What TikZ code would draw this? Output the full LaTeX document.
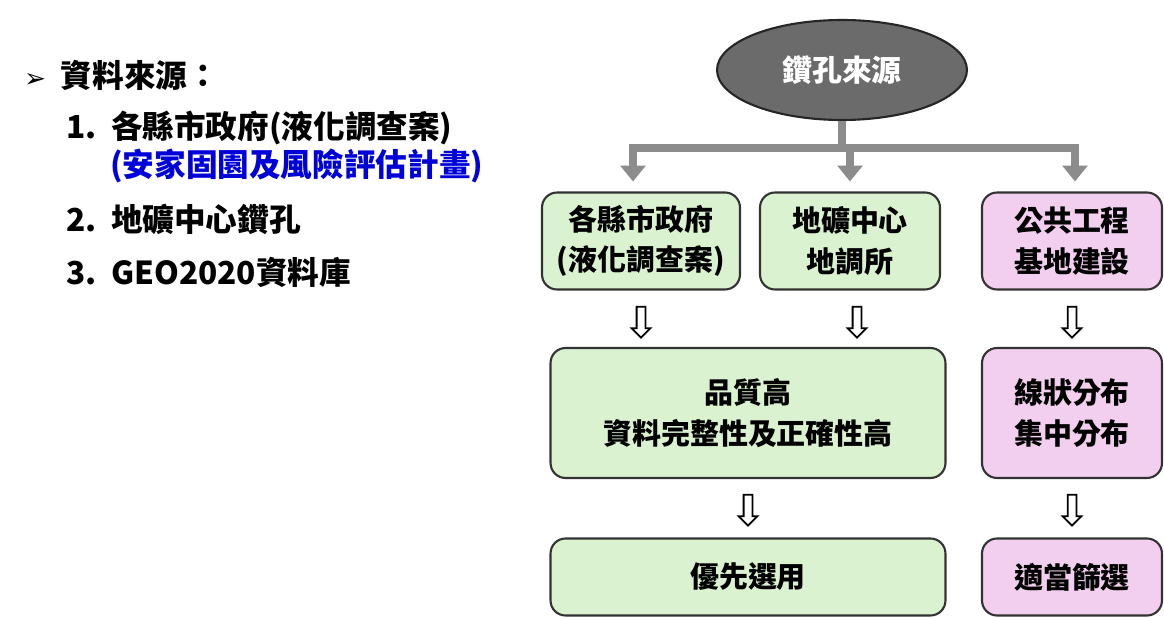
\documentclass[tikz,border=0pt]{standalone}
\usepackage{fontspec}
\setmainfont{Noto Sans CJK TC}
\newfontfamily\symfont{DejaVu Sans}
\usetikzlibrary{positioning,shapes.geometric,shapes.arrows,arrows.meta}
\definecolor{boxgreen}{HTML}{DAF2D0}
\definecolor{boxpink}{HTML}{F2CFEE}
\definecolor{linkgray}{HTML}{8C8C8C}
\tikzset{
  box/.style={draw=black!80,line width=1.2pt,rounded corners=0.3cm,align=center,
    font=\fontsize{16.5}{23}\selectfont\bfseries,inner sep=0pt},
  greenbox/.style={box,fill=boxgreen},
  pinkbox/.style={box,fill=boxpink},
  hollow/.style={single arrow,draw=black,line width=1pt,fill=white,rotate=270,
    minimum height=0.62cm,single arrow head extend=0.1cm,inner sep=0.07cm},
  link/.style={linkgray,line width=5pt},
  item/.style={anchor=west,font=\fontsize{18}{22}\selectfont\bfseries}
}
\begin{document}
\begin{tikzpicture}[x=0.02cm,y=-0.02cm]
\useasboundingbox (0,0) rectangle (1164,618);
% list on the left
\node[item] (title) at (18,75) {{\symfont\fontsize{15}{18}\selectfont ➢}\ \ 資料來源：};
\node[item] (n1) at (60,128) {1.\ \ 各縣市政府(液化調查案)};
\node[item,text=blue!85!black] (n1b) at (104,166) {(安家固園及風險評估計畫)};
\node[item] (n2) at (60,219) {2.\ \ 地礦中心鑽孔};
\node[item] (n3) at (60,272) {3.\ \ GEO2020資料庫};
% source
\node[ellipse,draw=black!85,line width=1.2pt,fill=black!58,text=white,
  minimum width=5cm,minimum height=2cm,font=\fontsize{17}{20}\selectfont\bfseries] (src) at (842,70) {鑽孔來源};
% first row
\node[greenbox,minimum width=3.96cm,minimum height=1.94cm] (county) at (641,241) {各縣市政府\\(液化調查案)};
\node[greenbox,minimum width=3.6cm,minimum height=1.94cm] (geo) at (850,241) {地礦中心\\地調所};
\node[pinkbox,minimum width=3.6cm,minimum height=1.94cm] (pub) at (1072,241) {公共工程\\基地建設};
% second row
\node[greenbox,minimum width=7.9cm,minimum height=2.6cm] (quality) at (748,413) {品質高\\資料完整性及正確性高};
\node[pinkbox,minimum width=3.6cm,minimum height=2.6cm] (dist) at (1072,413) {線狀分布\\集中分布};
% third row
\node[greenbox,minimum width=7.9cm,minimum height=1.54cm] (use) at (748,577) {優先選用};
\node[pinkbox,minimum width=3.6cm,minimum height=1.54cm] (filt) at (1072,577) {適當篩選};
% hollow arrows
\node[hollow] (a1) at (641,320) {};
\node[hollow] (a2) at (857,320) {};
\node[hollow] (a3) at (1072,320) {};
\node[hollow] (a4) at (748,508) {};
\node[hollow] (a5) at (1072,508) {};
% gray connector
\coordinate (split) at (842,148);
\draw[link] (src.south) -- (split);
\draw[link,-{Triangle[length=9pt,width=14pt]}] (split) -| ([xshift=-8*0.02cm,yshift=0.2cm]county.north);
\draw[link,-{Triangle[length=9pt,width=14pt]}] (split) -| ([yshift=0.2cm]geo.north);
\draw[link,-{Triangle[length=9pt,width=14pt]}] (split) -| ([xshift=3*0.02cm,yshift=0.2cm]pub.north);
\end{tikzpicture}
\end{document}
